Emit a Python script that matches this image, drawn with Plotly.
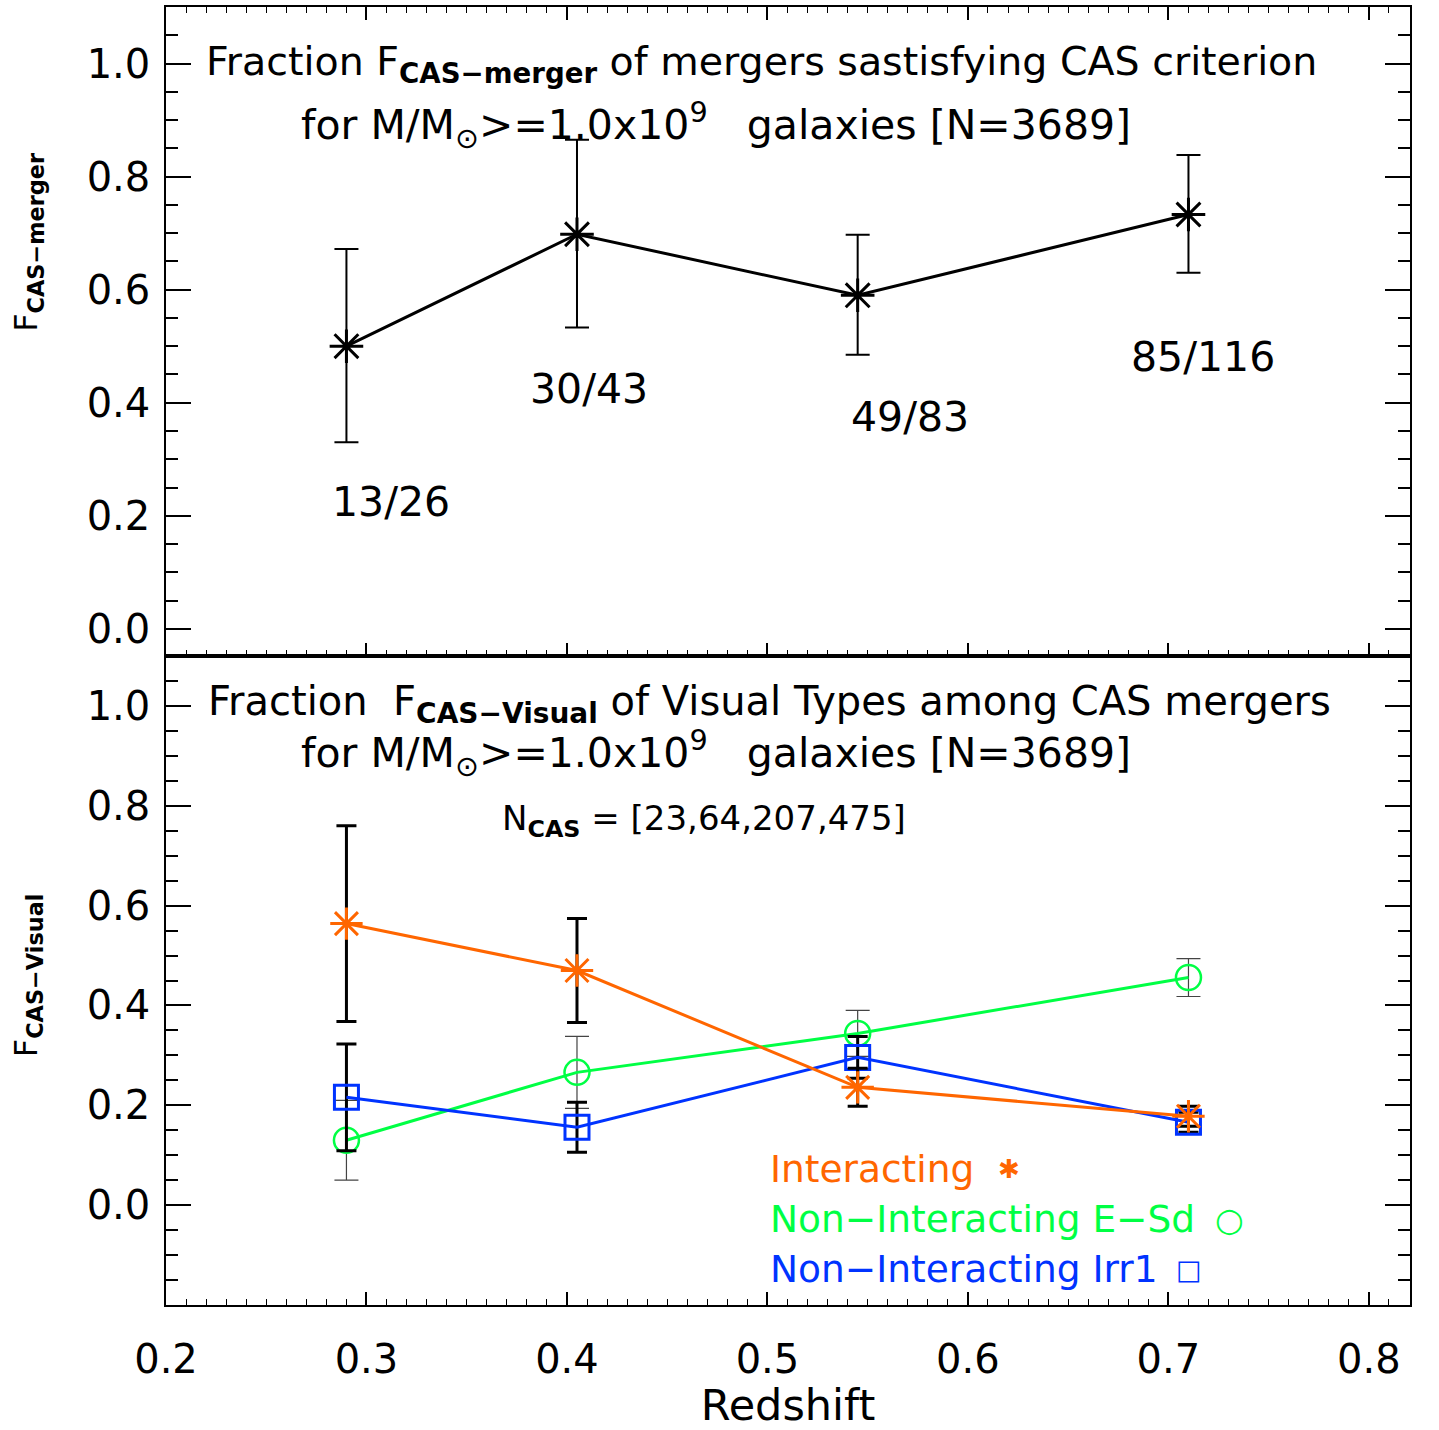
import plotly.graph_objects as go

# ---------------- data ----------------
redshift = [0.29, 0.405, 0.545, 0.71]

# top panel: fraction of mergers satisfying CAS
f_cas_merger = [0.500, 0.698, 0.590, 0.733]
f_cas_merger_err_hi = [0.172, 0.167, 0.107, 0.105]
f_cas_merger_err_lo = [0.170, 0.165, 0.105, 0.103]
count_labels = ["13/26", "30/43", "49/83", "85/116"]
count_label_x = [0.312, 0.411, 0.571, 0.717]
count_label_y = [0.225, 0.425, 0.375, 0.481]

# bottom panel: visual types among CAS mergers
f_interacting = [0.564, 0.470, 0.236, 0.178]
f_interacting_err = [0.196, 0.104, 0.038, 0.020]
f_esd = [0.130, 0.266, 0.344, 0.456]
f_esd_err = [0.080, 0.072, 0.046, 0.038]
f_irr1 = [0.216, 0.156, 0.296, 0.166]
f_irr1_err = [0.107, 0.050, 0.042, 0.020]

y_tick_vals = [0.0, 0.2, 0.4, 0.6, 0.8, 1.0]
y_tick_text = ["0.0", "0.2", "0.4", "0.6", "0.8", "1.0"]
x_tick_vals = [0.2, 0.3, 0.4, 0.5, 0.6, 0.7, 0.8]
x_tick_text = ["0.2", "0.3", "0.4", "0.5", "0.6", "0.7", "0.8"]

ORANGE = "#FF6600"
GREEN = "#00FF44"
BLUE = "#0033FF"
FONT = "DejaVu Sans"

fig = go.Figure()

# top panel
fig.add_trace(go.Scatter(
    x=redshift, y=f_cas_merger, mode="lines+markers",
    line=dict(color="black", width=3),
    marker=dict(symbol="asterisk-open", size=28, color="black", line=dict(width=3, color="black")),
    error_y=dict(type="data", array=f_cas_merger_err_hi, arrayminus=f_cas_merger_err_lo,
                 color="black", thickness=2, width=12),
    xaxis="x2", yaxis="y2", showlegend=False))

# bottom panel
fig.add_trace(go.Scatter(
    x=redshift, y=f_esd, mode="lines+markers",
    line=dict(color=GREEN, width=3),
    marker=dict(symbol="circle-open", size=25, color=GREEN, line=dict(width=2.5, color=GREEN)),
    error_y=dict(type="data", array=f_esd_err, color="#444444", thickness=1.2, width=12),
    xaxis="x", yaxis="y", showlegend=False))
fig.add_trace(go.Scatter(
    x=redshift, y=f_irr1, mode="lines+markers",
    line=dict(color=BLUE, width=3),
    marker=dict(symbol="square-open", size=24, color=BLUE, line=dict(width=3, color=BLUE)),
    error_y=dict(type="data", array=f_irr1_err, color="black", thickness=3, width=10),
    xaxis="x", yaxis="y", showlegend=False))
fig.add_trace(go.Scatter(
    x=redshift, y=f_interacting, mode="lines+markers",
    line=dict(color=ORANGE, width=3),
    marker=dict(symbol="asterisk-open", size=27, color=ORANGE, line=dict(width=3, color=ORANGE)),
    error_y=dict(type="data", array=f_interacting_err, color="black", thickness=3, width=10),
    xaxis="x", yaxis="y", showlegend=False))

axis_common = dict(showline=True, linecolor="black", linewidth=1.5,
                   ticks="inside", tickcolor="black", showgrid=False, zeroline=False)

fig.update_layout(
    width=1439, height=1430,
    margin=dict(l=166, r=29, t=5, b=125),
    paper_bgcolor="white", plot_bgcolor="white",
    font=dict(family=FONT, color="black", size=36),
    xaxis=dict(domain=[0, 1], range=[0.2, 0.8205], anchor="y", automargin=False,
               tickvals=x_tick_vals, ticktext=x_tick_text, ticklen=13, tickwidth=1.5,
               minor=dict(dtick=0.01, tick0=0.2, ticklen=6, tickwidth=1, ticks="inside", tickcolor="black"),
               tickfont=dict(size=40, family=FONT), ticklabelstandoff=18,
               title=dict(text="Redshift", font=dict(size=43, family=FONT), standoff=22),
               mirror=True, **axis_common),
    yaxis=dict(domain=[0, 0.5], range=[-0.2, 1.1], anchor="x", automargin=False,
               tickvals=y_tick_vals, ticktext=y_tick_text, ticklen=25, tickwidth=1.5,
               minor=dict(dtick=0.05, tick0=0, ticklen=12, tickwidth=1.5, ticks="inside", tickcolor="black"),
               tickfont=dict(size=40, family=FONT), ticklabelstandoff=6, mirror="ticks", **axis_common),
    xaxis2=dict(domain=[0, 1], range=[0.2, 0.8205], anchor="y2", showticklabels=False,
                tickvals=x_tick_vals, ticklen=13, tickwidth=1.5,
                minor=dict(dtick=0.01, tick0=0.2, ticklen=6, tickwidth=1, ticks="inside", tickcolor="black"),
                mirror="ticks", **axis_common),
    yaxis2=dict(domain=[0.5, 1], range=[-0.048, 1.1], anchor="x2", automargin=False,
                tickvals=y_tick_vals, ticktext=y_tick_text, ticklen=25, tickwidth=1.5,
                minor=dict(dtick=0.05, tick0=0, ticklen=12, tickwidth=1.5, ticks="inside", tickcolor="black"),
                tickfont=dict(size=40, family=FONT), ticklabelstandoff=6, mirror="ticks", **axis_common),
)


def pann(x, y, text, size, color="black", xanchor="center", **kw):
    return dict(x=x, y=y, xref="paper", yref="paper", text=text, showarrow=False,
                xanchor=xanchor, yanchor="middle", font=dict(size=size, color=color, family=FONT), **kw)


ann = []
# count labels (top panel)
for lx, ly, t in zip(count_label_x, count_label_y, count_labels):
    ann.append(dict(x=lx, y=ly, xref="x2", yref="y2", text=t, showarrow=False,
                    xanchor="center", yanchor="middle", font=dict(size=41, family=FONT)))

ann += [
    pann(0.479, 0.956, "Fraction F<sub><b>CAS−merger</b></sub> of mergers sastisfying CAS criterion", 39.5),
    pann(0.442, 0.909, "for M/M<sub>⊙</sub>>=1.0x10<sup>9</sup>   galaxies [N=3689]", 41),
    pann(0.4855, 0.463, "Fraction  F<sub><b>CAS−Visual</b></sub> of Visual Types among CAS mergers", 40),
    pann(0.442, 0.4254, "for M/M<sub>⊙</sub>>=1.0x10<sup>9</sup>   galaxies [N=3689]", 41),
    pann(0.4325, 0.373, "N<sub><b>CAS</b></sub> = [23,64,207,475]", 34),
    pann(-0.111, 0.819, "F<sub><b>CAS−merger</b></sub>", 32, textangle=-90),
    pann(-0.111, 0.254, "F<sub><b>CAS−Visual</b></sub>", 32, textangle=-90),
    # legend texts
    pann(0.484, 0.1046, "Interacting", 37.5, ORANGE, xanchor="left"),
    pann(0.484, 0.0662, "Non−Interacting E−Sd", 37.5, GREEN, xanchor="left"),
    pann(0.484, 0.0277, "Non−Interacting Irr1", 37.5, BLUE, xanchor="left"),
    # legend symbols
    pann(0.678, 0.1046, "✱", 26, ORANGE),
    pann(0.855, 0.0662, "○", 33, GREEN),
    pann(0.822, 0.0277, "□", 27, BLUE),
]
fig.update_layout(annotations=ann)

fig.write_html("out.html", config={"displayModeBar": False},
               post_script="document.body.style.margin='0px';")
